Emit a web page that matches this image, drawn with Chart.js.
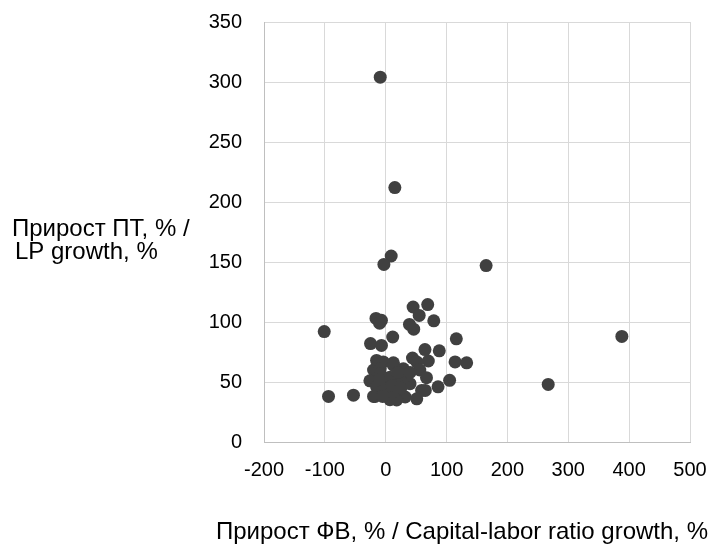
<!DOCTYPE html>
<html>
<head>
<meta charset="utf-8">
<script src="https://cdn.jsdelivr.net/npm/chart.js@4.4.1/dist/chart.umd.min.js"></script>
<style>
  html, body { margin: 0; padding: 0; background: #fff; }
  #wrap { width: 711px; height: 545px; position: relative; }
</style>
</head>
<body>
<div id="wrap"><canvas id="chart"></canvas></div>
<script>
// capital-labor ratio growth, % (x) and labor productivity growth, % (y)
const capitalLaborGrowth = [
  -9, 15, 9, -3, 165, -101, 388, 267, -94, -53,
  45, 69, 55, 79, -16, -7, -10, 39, 46, 11.5,
  116, -25, -7, 64.5, 88, 44, 70, 114, 133, -15,
  -4, 12.6, -20, -9, 12.6, 29, 51, 56, 67, 105,
  86, 59, 65, 51, 32, 18, 7, -17.5, -26, -15,
  1.6, 18, -4, 40, 23.5, 7, -9, 34, 7, -20,
  -10, 20, 40, 10, 25, -5
];
const laborProductivityGrowth = [
  304, 212, 155, 148, 147, 92, 88, 48, 38, 39,
  112.5, 114.5, 105.5, 101, 103, 101.4, 99, 98, 94, 87.5,
  86, 82, 80.5, 77, 76, 70, 67.5, 66.7, 66, 68,
  66.7, 66, 60, 61, 64, 61, 66.7, 60, 53.6, 51.4,
  46, 43, 43, 36, 37.5, 35, 35.3, 38, 51, 46,
  48.6, 43, 43, 48.6, 51.4, 54, 57, 55.5, 40, 38,
  52, 58, 58, 47, 45, 38
];
const xTicks = [-200, -100, 0, 100, 200, 300, 400, 500];
const yTicks = [0, 50, 100, 150, 200, 250, 300, 350];

const xTitle = "Прирост ФВ, % / Capital-labor ratio growth, %";
const yTitleLines = ["Прирост ПТ, % /", "LP growth, %"];

const FONT = '"Liberation Sans", Arial, sans-serif';

const points = capitalLaborGrowth.map((x, i) => ({ x: x, y: laborProductivityGrowth[i] }));

// axis titles drawn horizontally like the original
const axisTitles = {
  id: "axisTitles",
  afterDraw(chart) {
    const ctx = chart.ctx;
    const area = chart.chartArea;
    ctx.save();
    ctx.fillStyle = "#000";
    ctx.font = "24px " + FONT;
    ctx.textBaseline = "alphabetic";
    ctx.textAlign = "left";
    ctx.fillText(yTitleLines[0], 12, 236);
    ctx.fillText(yTitleLines[1], 15, 259);
    ctx.textAlign = "center";
    ctx.fillText(xTitle, (area.left + area.right) / 2 - 15, 539);
    ctx.restore();
  }
};

new Chart(document.getElementById("chart"), {
  type: "scatter",
  data: {
    datasets: [{
      data: points,
      backgroundColor: "#404040",
      borderColor: "#404040",
      borderWidth: 0,
      pointRadius: 6.5,
      pointHoverRadius: 6.5
    }]
  },
  options: {
    responsive: true,
    maintainAspectRatio: false,
    animation: false,
    layout: { padding: { left: 0, right: 21, top: 22, bottom: 0 } },
    plugins: {
      legend: { display: false },
      tooltip: { enabled: false }
    },
    scales: {
      x: {
        type: "linear",
        min: xTicks[0],
        max: xTicks[xTicks.length - 1],
        afterBuildTicks: (scale) => { scale.ticks = xTicks.map(v => ({ value: v })); },
        afterFit: (scale) => {
          scale.height = 103;
          scale.paddingLeft = 0;
          scale.paddingRight = 0;
        },
        ticks: { color: "#000", font: { family: FONT, size: 20 }, padding: 16 },
        grid: { color: "#d9d9d9", lineWidth: 1, drawTicks: false },
        border: { color: "#bfbfbf", width: 1 }
      },
      y: {
        type: "linear",
        min: yTicks[0],
        max: yTicks[yTicks.length - 1],
        afterBuildTicks: (scale) => { scale.ticks = yTicks.map(v => ({ value: v })); },
        afterFit: (scale) => {
          scale.width = 264;
          scale.paddingTop = 0;
          scale.paddingBottom = 0;
        },
        ticks: { color: "#000", font: { family: FONT, size: 20 }, padding: 22 },
        grid: { color: "#d9d9d9", lineWidth: 1, drawTicks: false },
        border: { color: "#bfbfbf", width: 1 }
      }
    }
  },
  plugins: [axisTitles]
});
</script>
</body>
</html>
